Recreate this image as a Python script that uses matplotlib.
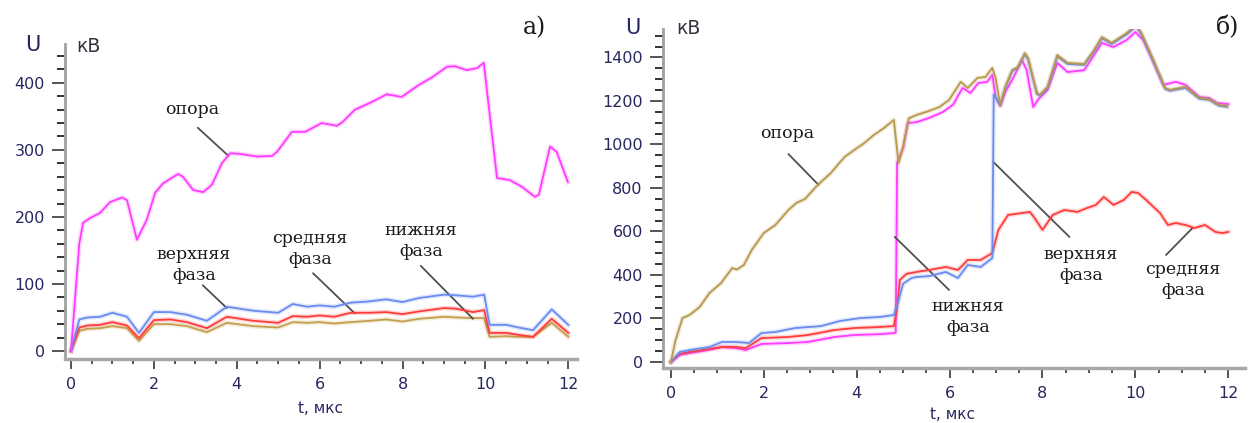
import matplotlib
matplotlib.use("Agg")
import matplotlib.pyplot as plt
from matplotlib.ticker import MultipleLocator

W, H = 1248, 423

# ---------------- panel a) ----------------
ta_sup = [0, 0.2, 0.29, 0.45, 0.7, 0.94, 1.23, 1.35, 1.59, 1.83, 2.03, 2.22, 2.58, 2.7, 2.95,
          3.19, 3.4, 3.64, 3.84, 4.08, 4.5, 4.85, 4.97, 5.33, 5.65, 6.05, 6.42, 6.56, 6.85, 7.21,
          7.62, 7.98, 8.37, 8.73, 9.07, 9.26, 9.55, 9.8, 9.96, 10.28, 10.59, 10.88, 11.19, 11.29,
          11.56, 11.72, 11.99]
ua_sup = [0, 160, 191, 198, 206, 222, 229, 225, 166, 196, 236, 250, 264, 260, 240,
          237, 248, 280, 295, 294, 290, 291, 297, 327, 327, 340, 336, 342, 360, 370,
          383, 379, 396, 409, 424, 425, 419, 422, 430, 258, 255, 245, 230, 233,
          305, 297, 252]

ta_ph = [0, 0.2, 0.4, 0.7, 1.0, 1.35, 1.64, 2.0, 2.4, 2.8, 3.28, 3.76, 4.4, 5.0, 5.35,
         5.7, 6.0, 6.35, 6.75, 7.2, 7.6, 8.0, 8.4, 9.0, 9.3, 9.7, 9.97, 10.1, 10.5, 10.8,
         11.15, 11.6, 12.0]
ua_up = [0, 47, 50, 51, 57, 51, 27, 58, 58, 54, 45, 66, 60, 57, 70,
         66, 68, 66, 72, 74, 77, 73, 79, 84, 83, 81, 84, 39, 39, 35,
         31, 62, 39]
ua_mid = [0, 35, 38, 39, 43, 38, 19, 46, 47, 43, 34, 51, 45, 42, 52,
          51, 53, 51, 57, 57, 58, 55, 59, 64, 63, 58, 61, 27, 27, 24,
          21, 48, 27]
ua_low = [0, 30, 33, 34, 37, 34, 15, 40, 40, 37, 28, 42, 37, 35, 43,
          42, 43, 41, 43, 45, 47, 44, 48, 51, 50, 49, 49, 21, 22, 21,
          21, 42, 21]

# ---------------- panel б) ----------------
tb_sup = [0, 0.1, 0.25, 0.4, 0.62, 0.83, 1.08, 1.32, 1.42, 1.57, 1.74, 2.0, 2.25, 2.53, 2.7,
          2.89, 3.16, 3.44, 3.74, 3.95, 4.16, 4.37, 4.59, 4.8, 4.9, 5.0, 5.12, 5.29, 5.5, 5.78,
          5.99, 6.24, 6.39, 6.6, 6.77, 6.92, 6.99, 7.09, 7.2, 7.35, 7.47, 7.62, 7.69, 7.88, 7.94,
          8.11, 8.32, 8.54, 8.9, 9.11, 9.28, 9.49, 9.81, 10.02, 10.13, 10.34, 10.64, 10.74, 11.08,
          11.38, 11.59, 11.8, 11.97]
ub_sup = [0, 100, 202, 216, 253, 317, 363, 432, 425, 446, 515, 593, 630, 699, 731,
          750, 814, 868, 943, 975, 1006, 1044, 1076, 1113, 915, 989, 1120, 1136, 1150, 1172,
          1205, 1288, 1260, 1306, 1310, 1352, 1306, 1182, 1265, 1342, 1356, 1420, 1397, 1237, 1228,
          1265, 1411, 1375, 1370, 1434, 1494, 1467, 1512, 1549, 1512, 1411, 1260, 1251, 1265,
          1214, 1209, 1182, 1177]

tb_low = [0, 0.19, 0.4, 0.8, 1.1, 1.4, 1.61, 1.95, 2.53, 2.95, 3.52, 3.95, 4.5, 4.8, 4.84,
          4.87, 5.0, 5.1, 5.29, 5.56, 5.86, 6.07, 6.28, 6.45, 6.62, 6.81, 6.92, 6.99, 7.09, 7.2,
          7.37, 7.56, 7.66, 7.8, 7.9, 8.11, 8.32, 8.54, 8.9, 9.11, 9.28, 9.53, 9.81, 10.0, 10.17,
          10.34, 10.6, 10.87, 11.08, 11.38, 11.59, 11.76, 12.0]
ub_low = [0, 32, 41, 55, 69, 64, 55, 83, 87, 92, 115, 124, 128, 133, 135,
          915, 984, 1099, 1103, 1122, 1150, 1182, 1260, 1237, 1283, 1288, 1320, 1218, 1177, 1241,
          1306, 1388, 1342, 1172, 1205, 1251, 1375, 1333, 1342, 1411, 1467, 1448, 1480, 1517, 1480,
          1402, 1274, 1288, 1274, 1218, 1214, 1191, 1186]

tb_up = [0, 0.19, 0.4, 0.83, 1.1, 1.4, 1.68, 1.95, 2.25, 2.67, 3.23, 3.65, 4.08, 4.5, 4.8,
         4.86, 5.0, 5.18, 5.29, 5.56, 5.92, 6.18, 6.39, 6.67, 6.92, 6.95, 7.09, 7.2, 7.35, 7.47,
         7.62, 7.69, 7.88, 7.94, 8.11, 8.32, 8.54, 8.9, 9.11, 9.28, 9.49, 9.81, 10.02, 10.13, 10.34,
         10.64, 10.74, 11.08, 11.38, 11.59, 11.8, 11.97]
ub_up = [0, 46, 55, 69, 92, 92, 87, 133, 138, 156, 165, 189, 202, 207, 216,
         253, 360, 386, 391, 395, 414, 386, 446, 437, 478, 1230, 1182, 1260, 1338, 1352,
         1414, 1392, 1232, 1224, 1260, 1405, 1370, 1366, 1428, 1488, 1462, 1506, 1543, 1506, 1405,
         1256, 1247, 1260, 1210, 1205, 1178, 1173]

tb_mid = [0, 0.19, 0.4, 1.1, 1.4, 1.61, 1.95, 2.53, 2.95, 3.52, 3.95, 4.5, 4.8, 4.86, 4.93,
          5.07, 5.29, 5.56, 5.92, 6.18, 6.39, 6.67, 6.92, 7.05, 7.26, 7.56, 7.73, 7.83, 8.0, 8.22,
          8.47, 8.75, 8.96, 9.15, 9.32, 9.53, 9.75, 9.92, 10.06, 10.23, 10.53, 10.7, 10.87, 11.08,
          11.27, 11.5, 11.72, 11.87, 12.0]
ub_mid = [0, 38, 46, 69, 69, 64, 110, 115, 124, 147, 156, 161, 165, 230, 377,
          405, 414, 423, 437, 423, 469, 469, 501, 607, 676, 685, 690, 662, 607, 676,
          699, 690, 708, 722, 759, 722, 745, 782, 777, 745, 685, 630, 639, 630,
          616, 630, 598, 593, 598]

MAGENTA = '#ff3cff'
BLUE = '#6a8cf0'
RED = '#ff3c3c'
TAN = '#c4a04e'
TAN_B = '#b8984a'
TXT = '#262660'
LEAD = '#505050'

plt.rcParams['font.family'] = ['DejaVu Sans']

fig = plt.figure(figsize=(W / 100, H / 100), dpi=100)


def px_axes(x0, x1, ytop, ybot):
    return fig.add_axes([x0 / W, 1 - ybot / H, (x1 - x0) / W, (ybot - ytop) / H])


def ftext(x, y, s, **kw):
    fig.text(x / W, 1 - y / H, s, **kw)


def style(ax, xmaj, xmin, ymaj, ymin):
    for s in ('top', 'right'):
        ax.spines[s].set_visible(False)
    ax.spines['left'].set_color('#a0a0a0')
    ax.spines['left'].set_linewidth(2)
    ax.spines['bottom'].set_color('#a8a8a8')
    ax.spines['bottom'].set_linewidth(2.5)
    ax.xaxis.set_major_locator(MultipleLocator(xmaj))
    ax.xaxis.set_minor_locator(MultipleLocator(xmin))
    ax.yaxis.set_major_locator(MultipleLocator(ymaj))
    ax.yaxis.set_minor_locator(MultipleLocator(ymin))
    ax.tick_params(axis='y', which='major', length=9.5, width=1.4, color='#555555',
                   labelsize=11.5, labelcolor=TXT, pad=5)
    ax.tick_params(axis='y', which='minor', length=6, width=1.4, color='#333333')
    ax.tick_params(axis='x', which='major', length=7, width=1.4, color='#555555',
                   labelsize=11.5, labelcolor=TXT, pad=6)
    ax.tick_params(axis='x', which='minor', length=3.5, width=1.2, color='#333333')
    ax.patch.set_visible(False)


def curve(ax, t, u, c, z):
    ax.plot(t, u, color=c, lw=3.4, alpha=0.2, zorder=z, solid_joinstyle='round')
    ax.plot(t, u, color=c, lw=1.3, zorder=z + 0.5, solid_joinstyle='round')


def lead(ax, p0, p1):
    ax.annotate('', xy=p1, xytext=p0,
                arrowprops=dict(arrowstyle='-', color=LEAD, lw=1.3, shrinkA=0, shrinkB=0))


SERIF = dict(family=['DejaVu Serif'], fontsize=12.5, color='#1a1a1a',
             ha='center', va='center', linespacing=1.3)

# ---- axes a)
axa = px_axes(65, 577, 44, 359)
axa.set_xlim(-0.145, 12.21)
axa.set_ylim(-12, 458)
style(axa, 2, 0.5, 100, 20)
curve(axa, ta_ph, ua_low, TAN, 2)
curve(axa, ta_ph, ua_mid, RED, 3)
curve(axa, ta_ph, ua_up, BLUE, 4)
curve(axa, ta_sup, ua_sup, MAGENTA, 5)
lead(axa, (3.06, 333), (3.80, 291))
lead(axa, (3.18, 98), (3.76, 64))
lead(axa, (5.84, 116), (6.85, 56))
lead(axa, (8.44, 127), (9.70, 48))
ftext(192, 110, 'опора', **SERIF)
ftext(194, 265, 'верхняя\nфаза', **SERIF)
ftext(310, 249, 'средняя\nфаза', **SERIF)
ftext(421, 241, 'нижняя\nфаза', **SERIF)
ftext(33, 45, 'U', fontsize=15, color=TXT, ha='center', va='center')
ftext(88, 46, 'кВ', fontsize=13.5, color='#333340', ha='center', va='center')
ftext(320, 408, 't, мкс', fontsize=11, color=TXT, ha='center', va='center')
ftext(535, 28, 'а)', family=['DejaVu Serif'], fontsize=17,
      color='#1a1a1a', ha='center', va='center')

# ---- axes б)
axb = px_axes(663, 1245, 29, 368)
axb.set_xlim(-0.17, 12.36)
axb.set_ylim(-27.6, 1531)
style(axb, 2, 0.5, 200, 50)
curve(axb, tb_low, ub_low, MAGENTA, 2)
curve(axb, tb_mid, ub_mid, RED, 3)
curve(axb, tb_up, ub_up, BLUE, 4)
curve(axb, tb_sup, ub_sup, TAN_B, 5)
lead(axb, (2.53, 956), (3.18, 814))
lead(axb, (4.82, 575), (5.99, 331))
lead(axb, (6.94, 920), (8.58, 575))
lead(axb, (10.66, 492), (11.23, 616))
ftext(787, 134, 'опора', **SERIF)
ftext(968, 317, 'нижняя\nфаза', **SERIF)
ftext(1081, 265, 'верхняя\nфаза', **SERIF)
ftext(1183, 280, 'средняя\nфаза', **SERIF)
ftext(633, 28, 'U', fontsize=15, color=TXT, ha='center', va='center')
ftext(688, 29, 'кВ', fontsize=13.5, color='#333340', ha='center', va='center')
ftext(953, 414, 't, мкс', fontsize=11, color=TXT, ha='center', va='center')
ftext(1228, 28, 'б)', family=['DejaVu Serif'], fontsize=17,
      color='#1a1a1a', ha='center', va='center')

fig.savefig('out.png', dpi=100)
